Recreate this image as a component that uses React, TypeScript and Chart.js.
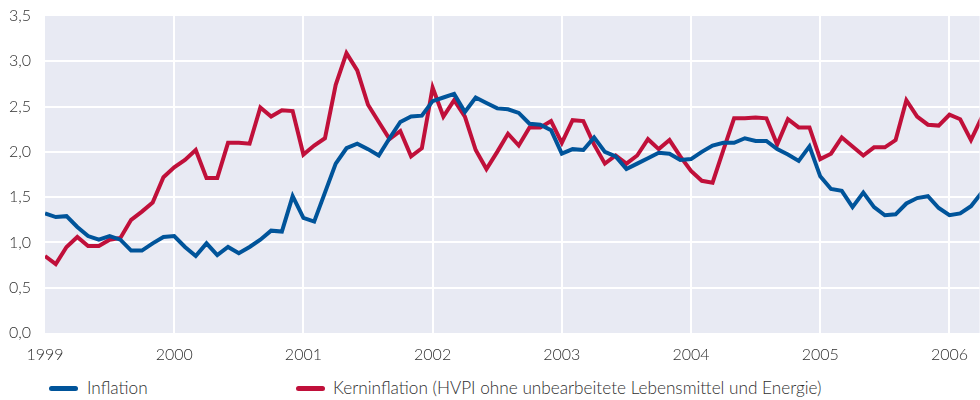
import React, { useEffect, useRef } from "react";
import { Chart, registerables } from "chart.js";

Chart.register(...registerables);

const startYear = 1999;
const yearTicks = [0, 12, 24, 36, 48, 60, 72, 84];

const inflation = [
  1.32, 1.28, 1.29, 1.17, 1.07, 1.03, 1.07, 1.03, 0.91, 0.91, 0.99, 1.06,
  1.07, 0.95, 0.85, 0.99, 0.86, 0.95, 0.88, 0.95, 1.03, 1.13, 1.12, 1.51,
  1.27, 1.23, 1.55, 1.87, 2.04, 2.09, 2.03, 1.96, 2.15, 2.33, 2.39, 2.4,
  2.56, 2.6, 2.64, 2.44, 2.6, 2.54, 2.48, 2.47, 2.43, 2.31, 2.3, 2.24,
  1.98, 2.03, 2.02, 2.16, 2.0, 1.95, 1.81, 1.87, 1.93, 1.99, 1.98, 1.91,
  1.92, 2.0, 2.07, 2.1, 2.1, 2.15, 2.12, 2.12, 2.03, 1.97, 1.9, 2.06,
  1.73, 1.59, 1.57, 1.39, 1.55, 1.39, 1.3, 1.31, 1.43, 1.49, 1.51, 1.38,
  1.3, 1.32, 1.4, 1.55,
];

const kerninflation = [
  0.85, 0.76, 0.95, 1.06, 0.96, 0.96, 1.03, 1.05, 1.25, 1.34, 1.44, 1.72,
  1.83, 1.91, 2.02, 1.71, 1.71, 2.1, 2.1, 2.09, 2.49, 2.39, 2.46, 2.45,
  1.97, 2.07, 2.15, 2.74, 3.09, 2.9, 2.52, 2.33, 2.14, 2.23, 1.95, 2.04,
  2.71, 2.39, 2.57, 2.39, 2.02, 1.81, 2.0, 2.2, 2.07, 2.27, 2.27, 2.34,
  2.1, 2.35, 2.34, 2.08, 1.87, 1.96, 1.87, 1.96, 2.14, 2.03, 2.13, 1.95,
  1.79, 1.68, 1.66, 2.02, 2.37, 2.37, 2.38, 2.37, 2.08, 2.36, 2.27, 2.27,
  1.92, 1.98, 2.16, 2.06, 1.96, 2.05, 2.05, 2.13, 2.57, 2.39, 2.3, 2.29,
  2.41, 2.36, 2.13, 2.38,
];

const seriesNames = [
  "Inflation",
  "Kerninflation (HVPI ohne unbearbeitete Lebensmittel und Energie)",
];
const colors = ["#00549A", "#C0103A"];

const FONT = "Lato, 'Open Sans', 'DejaVu Sans', sans-serif";
const TEXT_COLOR = "#2f2f2f";

const bgPlugin = {
  id: "plotBg",
  beforeDraw(chart: any) {
    const { ctx, chartArea } = chart;
    if (!chartArea) return;
    ctx.save();
    ctx.fillStyle = "#E8EAF3";
    ctx.fillRect(
      chartArea.left,
      chartArea.top,
      chartArea.right - chartArea.left,
      chartArea.bottom - chartArea.top
    );
    ctx.restore();
  },
};

export default function App() {
  const canvasRef = useRef<HTMLCanvasElement | null>(null);

  useEffect(() => {
    if (!canvasRef.current) return;
    const toPoints = (arr: number[]) => arr.map((v, i) => ({ x: i, y: v }));
    const chart = new Chart(canvasRef.current, {
      type: "line",
      data: {
        datasets: [
          {
            label: seriesNames[0],
            data: toPoints(inflation),
            borderColor: colors[0],
            backgroundColor: colors[0],
            borderWidth: 4,
            pointRadius: 0,
            tension: 0,
          },
          {
            label: seriesNames[1],
            data: toPoints(kerninflation),
            borderColor: colors[1],
            backgroundColor: colors[1],
            borderWidth: 4,
            pointRadius: 0,
            tension: 0,
          },
        ],
      },
      options: {
        animation: false,
        responsive: false,
        devicePixelRatio: 1,
        layout: { padding: { top: 16, left: 0, right: 0, bottom: 0 } },
        plugins: {
          legend: { display: false },
          tooltip: { enabled: false },
        },
        scales: {
          x: {
            type: "linear",
            min: 0,
            max: 86.8,
            afterBuildTicks(scale: any) {
              scale.ticks = yearTicks.map((v) => ({ value: v }));
            },
            afterFit(scale: any) {
              scale.height = 37;
            },
            border: { display: false },
            grid: {
              color: (ctx: any) =>
                ctx.tick && ctx.tick.value === 0 ? "rgba(0,0,0,0)" : "#FFFFFF",
              lineWidth: 2,
              drawTicks: false,
            },
            ticks: {
              padding: 12,
              color: TEXT_COLOR,
              font: { family: FONT, size: 16, weight: 300 },
              maxRotation: 0,
              autoSkip: false,
              callback: (v: any) => String(startYear + Math.round(Number(v) / 12)),
            },
          },
          y: {
            min: 0,
            max: 3.5,
            afterFit(scale: any) {
              scale.width = 45;
              scale.paddingTop = 0;
              scale.paddingBottom = 0;
            },
            border: { display: false },
            grid: {
              color: (ctx: any) =>
                ctx.tick && (ctx.tick.value === 0 || ctx.tick.value === 3.5)
                  ? "rgba(0,0,0,0)"
                  : "#FFFFFF",
              lineWidth: 2,
              drawTicks: false,
            },
            ticks: {
              stepSize: 0.5,
              padding: 14,
              color: TEXT_COLOR,
              font: { family: FONT, size: 16, weight: 300 },
              callback: (v: any) => Number(v).toFixed(1).replace(".", ","),
            },
          },
        },
      },
      plugins: [bgPlugin],
    } as any);
    return () => chart.destroy();
  }, []);

  const legendItem = (i: number, left: number, textLeft: number) => (
    <div key={i}>
      <div
        style={{
          position: "absolute",
          left,
          top: 386,
          width: 29,
          height: 5,
          borderRadius: 3,
          background: colors[i],
        }}
      />
      <div
        style={{
          position: "absolute",
          left: textLeft,
          top: 377,
          fontFamily: FONT,
          fontWeight: 300,
          fontSize: 17.2,
          lineHeight: "22px",
          color: TEXT_COLOR,
          whiteSpace: "nowrap",
        }}
      >
        {seriesNames[i]}
      </div>
    </div>
  );

  return (
    <div
      style={{
        position: "absolute",
        left: 0,
        top: 0,
        width: 980,
        height: 400,
        background: "#FFFFFF",
        overflow: "hidden",
      }}
    >
      <canvas
        ref={canvasRef}
        width={980}
        height={370}
        style={{ position: "absolute", left: 0, top: 0, width: 980, height: 370 }}
      />
      {legendItem(0, 49, 87)}
      {legendItem(1, 296, 333)}
    </div>
  );
}
